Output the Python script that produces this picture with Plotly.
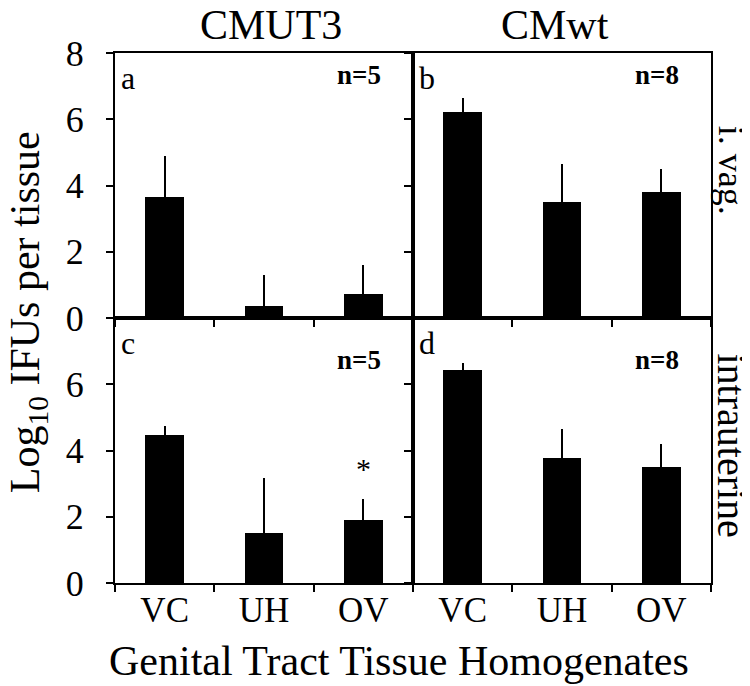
import plotly.graph_objects as go
from plotly.subplots import make_subplots

categories = ["VC", "UH", "OV"]

# panel a: CMUT3, i. vag.
a_mean = [3.66, 0.37, 0.72]
a_err = [1.24, 0.92, 0.87]
# panel b: CMwt, i. vag.
b_mean = [6.22, 3.49, 3.81]
b_err = [0.41, 1.16, 0.69]
# panel c: CMUT3, intrauterine
c_mean = [4.47, 1.52, 1.89]
c_err = [0.26, 1.65, 0.65]
# panel d: CMwt, intrauterine
d_mean = [6.44, 3.77, 3.50]
d_err = [0.19, 0.88, 0.70]

col_titles = ["CMUT3", "CMwt"]
row_titles = ["i. vag.", "intrauterine"]
panel_letters = ["a", "b", "c", "d"]
panel_n = ["n=5", "n=8", "n=5", "n=8"]
y_ticks_top = [0, 2, 4, 6, 8]
y_ticks_bottom = [0, 2, 4, 6]

FONT = "Liberation Serif"

fig = make_subplots(rows=2, cols=2, horizontal_spacing=0, vertical_spacing=0)

panels = [(a_mean, a_err, 1, 1), (b_mean, b_err, 1, 2),
          (c_mean, c_err, 2, 1), (d_mean, d_err, 2, 2)]
for mean, err, r, c in panels:
    fig.add_trace(go.Bar(
        x=categories, y=mean, width=0.39,
        marker=dict(color="black", line=dict(width=0)),
        error_y=dict(type="data", symmetric=False, array=err,
                     arrayminus=[0] * len(err), color="black",
                     thickness=2, width=0),
        showlegend=False), row=r, col=c)

for r in (1, 2):
    for c in (1, 2):
        fig.update_xaxes(type="category", categoryorder="array",
                         categoryarray=categories, range=[-0.5, 2.5],
                         showline=True, mirror=True, linecolor="black", linewidth=2,
                         ticks="outside", tickson="boundaries", ticklen=7,
                         tickwidth=2, tickcolor="black", showgrid=False,
                         showticklabels=(r == 2), ticklabelstandoff=-5,
                         automargin=False,
                         tickfont=dict(family=FONT, size=35, color="black"),
                         row=r, col=c)
        fig.update_yaxes(range=[0, 8],
                         tickvals=y_ticks_top if r == 1 else y_ticks_bottom,
                         showline=True, mirror=True, linecolor="black", linewidth=2,
                         ticks="outside", ticklen=7, tickwidth=2, tickcolor="black",
                         showgrid=False, zeroline=False,
                         showticklabels=(c == 1), ticklabelstandoff=15,
                         automargin=False,
                         tickfont=dict(family=FONT, size=36, color="black"),
                         row=r, col=c)

anns = []
axis_ids = [("x", "y"), ("x2", "y2"), ("x3", "y3"), ("x4", "y4")]
for i, (xa, ya) in enumerate(axis_ids):
    top = i < 2
    anns.append(dict(text=panel_letters[i], xref=f"{xa} domain", yref=f"{ya} domain",
                     x=0.015, y=0.905, xanchor="left", yanchor="middle", showarrow=False,
                     font=dict(family=FONT, size=32, color="black")))
    anns.append(dict(text=f"<b>{panel_n[i]}</b>", xref=f"{xa} domain", yref=f"{ya} domain",
                     x=0.90, y=0.916 if top else 0.843, xanchor="right", yanchor="middle",
                     showarrow=False, font=dict(family=FONT, size=27, color="black")))

# asterisk over OV in panel c
anns.append(dict(text="*", xref="x3", yref="y3", x="OV", y=3.45, showarrow=False,
                 xanchor="center", yanchor="middle",
                 font=dict(family=FONT, size=30, color="black")))

anns.append(dict(text=col_titles[0], xref="paper", yref="paper", x=0.262, y=1.053,
                 xanchor="center", yanchor="middle", showarrow=False,
                 font=dict(family=FONT, size=42, color="black")))
anns.append(dict(text=col_titles[1], xref="paper", yref="paper", x=0.738, y=1.053,
                 xanchor="center", yanchor="middle", showarrow=False,
                 font=dict(family=FONT, size=42, color="black")))
anns.append(dict(text=row_titles[0], xref="paper", yref="paper", x=1.034, y=0.779,
                 xanchor="center", yanchor="middle", showarrow=False, textangle=90,
                 font=dict(family=FONT, size=36, color="black")))
anns.append(dict(text=row_titles[1], xref="paper", yref="paper", x=1.034, y=0.259,
                 xanchor="center", yanchor="middle", showarrow=False, textangle=90,
                 font=dict(family=FONT, size=40, color="black")))
anns.append(dict(text="Log<sub>10</sub> IFUs per tissue", xref="paper", yref="paper",
                 x=-0.146, y=0.511, xanchor="center", yanchor="middle", showarrow=False,
                 textangle=-90, font=dict(family=FONT, size=42, color="black")))
anns.append(dict(text="Genital Tract Tissue Homogenates", xref="paper", yref="paper",
                 x=0.476, y=-0.147, xanchor="center", yanchor="middle", showarrow=False,
                 font=dict(family=FONT, size=42, color="black")))

fig.update_layout(width=750, height=686,
                  margin=dict(l=107, r=47, t=45, b=111),
                  paper_bgcolor="white", plot_bgcolor="white",
                  bargap=0, annotations=anns)

fig.write_html("out.html")
